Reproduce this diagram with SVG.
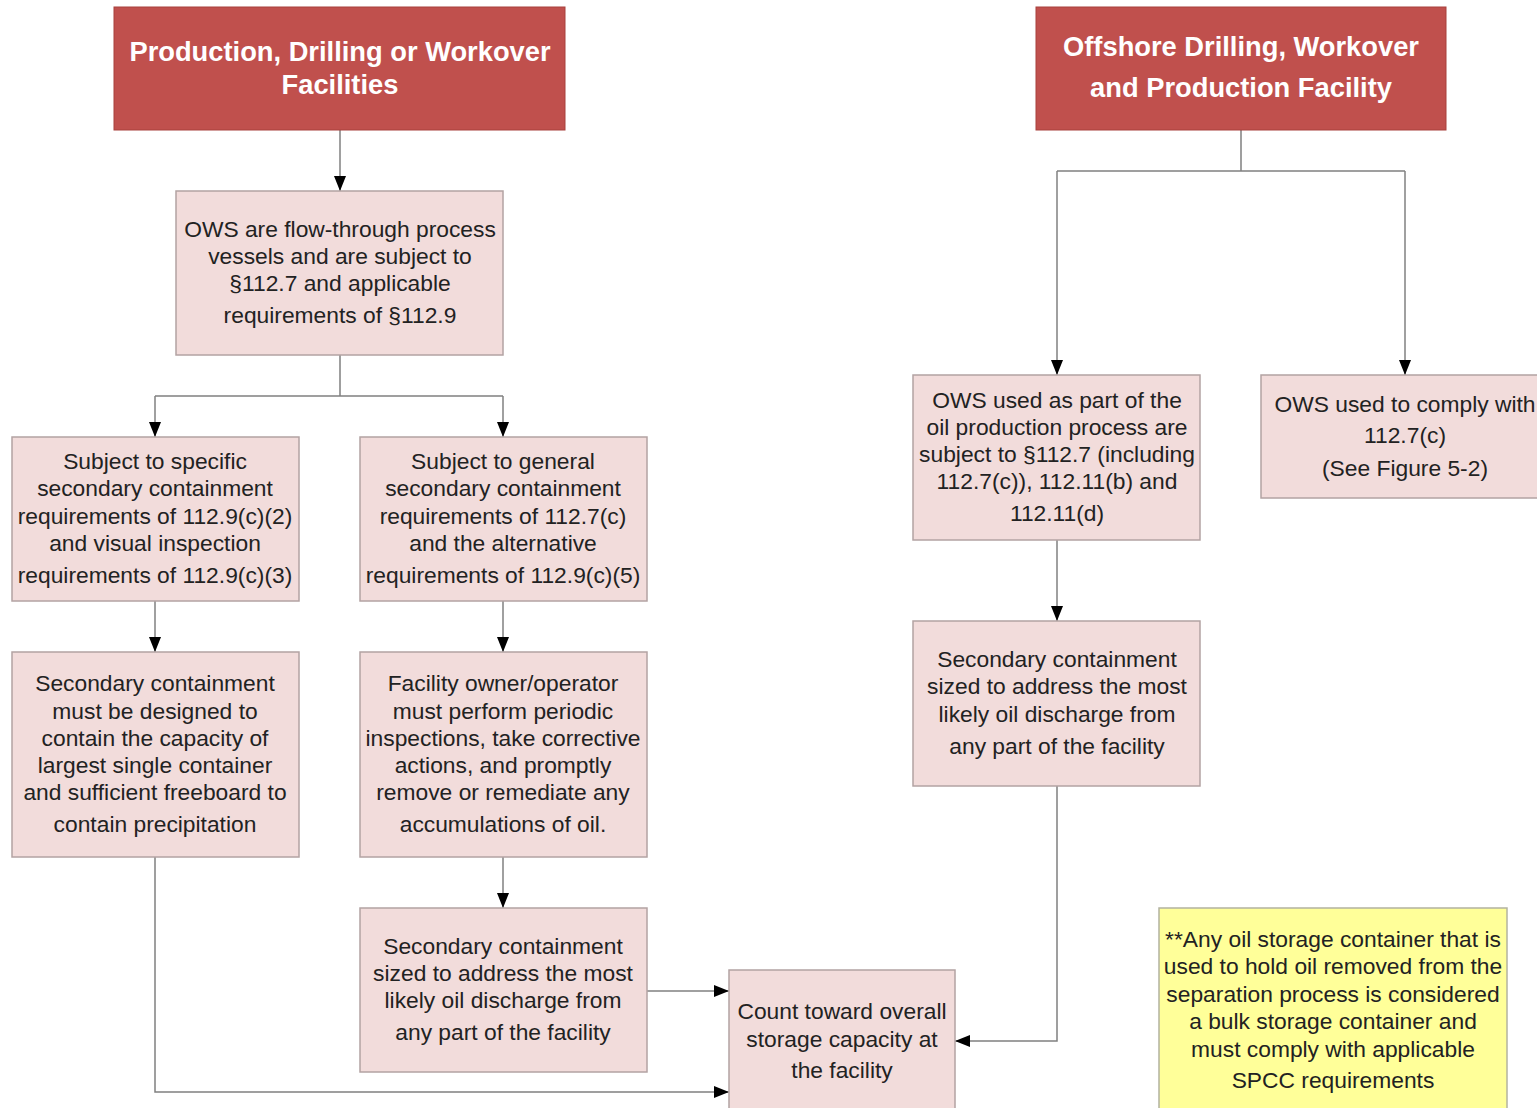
<svg xmlns="http://www.w3.org/2000/svg" width="1537" height="1108" viewBox="0 0 1537 1108">
<defs>
<marker id="ah" markerWidth="15" markerHeight="12" refX="15" refY="6" orient="auto" markerUnits="userSpaceOnUse">
<path d="M0,0 L15,6 L0,12 Z" fill="#000"/>
</marker>
<style>
.hdr{fill:#c0504d;stroke:#a8403d;stroke-width:1}
.box{fill:#f2dcdb;stroke:#b3a3a3;stroke-width:1.5}
.note{fill:#ffff99;stroke:#b3b3a0;stroke-width:1.5}
.ht{font-family:"Liberation Sans",Arial,sans-serif;font-weight:bold;font-size:27.3px;fill:#fff;text-anchor:middle}
.t{font-family:"Liberation Sans",Arial,sans-serif;font-size:22.8px;fill:#222;text-anchor:middle}
.c{fill:none;stroke:#808080;stroke-width:1.5}
.a{marker-end:url(#ah)}
</style>
</defs>
<rect width="1537" height="1108" fill="#fff"/>
<g id="connectors">
<path class="c a" d="M340,130 V191"/>
<path class="c" d="M340,355 V396 H155 M340,396 H503"/>
<path class="c a" d="M155,396 V437"/>
<path class="c a" d="M503,396 V437"/>
<path class="c a" d="M155,601 V652"/>
<path class="c a" d="M503,601 V652"/>
<path class="c a" d="M503,857 V908"/>
<path class="c a" d="M647,991 H729"/>
<path class="c a" d="M155,857 V1092 H729"/>
<path class="c a" d="M1057,786 V1041 H955"/>
<path class="c" d="M1241,130 V171 H1057 M1241,171 H1405"/>
<path class="c a" d="M1057,171 V375"/>
<path class="c a" d="M1405,171 V375"/>
<path class="c a" d="M1057,540 V621"/>
</g>
<g id="n-header1">
<rect class="hdr" x="114" y="7" width="451" height="123"/>
<text class="ht" x="340" y="61">Production, Drilling or Workover</text>
<text class="ht" x="340" y="94">Facilities</text>
</g>
<g id="n-header2">
<rect class="hdr" x="1036" y="7" width="410" height="123"/>
<text class="ht" x="1241" y="56">Offshore Drilling, Workover</text>
<text class="ht" x="1241" y="97">and Production Facility</text>
</g>
<g id="n-ows">
<rect class="box" x="176" y="191" width="327" height="164"/>
<text class="t" x="340" y="237">OWS are flow-through process</text>
<text class="t" x="340" y="264">vessels and are subject to</text>
<text class="t" x="340" y="291">§112.7 and applicable</text>
<text class="t" x="340" y="323">requirements of §112.9</text>
</g>
<g id="n-specific">
<rect class="box" x="12" y="437" width="287" height="164"/>
<text class="t" x="155" y="469">Subject to specific</text>
<text class="t" x="155" y="496">secondary containment</text>
<text class="t" x="155" y="524">requirements of 112.9(c)(2)</text>
<text class="t" x="155" y="551">and visual inspection</text>
<text class="t" x="155" y="583">requirements of 112.9(c)(3)</text>
</g>
<g id="n-general">
<rect class="box" x="360" y="437" width="287" height="164"/>
<text class="t" x="503" y="469">Subject to general</text>
<text class="t" x="503" y="496">secondary containment</text>
<text class="t" x="503" y="524">requirements of 112.7(c)</text>
<text class="t" x="503" y="551">and the alternative</text>
<text class="t" x="503" y="583">requirements of 112.9(c)(5)</text>
</g>
<g id="n-designed">
<rect class="box" x="12" y="652" width="287" height="205"/>
<text class="t" x="155" y="691">Secondary containment</text>
<text class="t" x="155" y="719">must be designed to</text>
<text class="t" x="155" y="746">contain the capacity of</text>
<text class="t" x="155" y="773">largest single container</text>
<text class="t" x="155" y="800">and sufficient freeboard to</text>
<text class="t" x="155" y="832">contain precipitation</text>
</g>
<g id="n-owner">
<rect class="box" x="360" y="652" width="287" height="205"/>
<text class="t" x="503" y="691">Facility owner/operator</text>
<text class="t" x="503" y="719">must perform periodic</text>
<text class="t" x="503" y="746">inspections, take corrective</text>
<text class="t" x="503" y="773">actions, and promptly</text>
<text class="t" x="503" y="800">remove or remediate any</text>
<text class="t" x="503" y="832">accumulations of oil.</text>
</g>
<g id="n-sized-left">
<rect class="box" x="360" y="908" width="287" height="164"/>
<text class="t" x="503" y="954">Secondary containment</text>
<text class="t" x="503" y="981">sized to address the most</text>
<text class="t" x="503" y="1008">likely oil discharge from</text>
<text class="t" x="503" y="1040">any part of the facility</text>
</g>
<g id="n-count">
<rect class="box" x="729" y="970" width="226" height="150"/>
<text class="t" x="842" y="1019">Count toward overall</text>
<text class="t" x="842" y="1047">storage capacity at</text>
<text class="t" x="842" y="1078">the facility</text>
</g>
<g id="n-ows-prod">
<rect class="box" x="913" y="375" width="287" height="165"/>
<text class="t" x="1057" y="408">OWS used as part of the</text>
<text class="t" x="1057" y="435">oil production process are</text>
<text class="t" x="1057" y="462">subject to §112.7 (including</text>
<text class="t" x="1057" y="489">112.7(c)), 112.11(b) and</text>
<text class="t" x="1057" y="521">112.11(d)</text>
</g>
<g id="n-ows-comply">
<rect class="box" x="1261" y="375" width="290" height="123"/>
<text class="t" x="1405" y="412">OWS used to comply with</text>
<text class="t" x="1405" y="443">112.7(c)</text>
<text class="t" x="1405" y="476">(See Figure 5-2)</text>
</g>
<g id="n-sized-right">
<rect class="box" x="913" y="621" width="287" height="165"/>
<text class="t" x="1057" y="667">Secondary containment</text>
<text class="t" x="1057" y="694">sized to address the most</text>
<text class="t" x="1057" y="722">likely oil discharge from</text>
<text class="t" x="1057" y="754">any part of the facility</text>
</g>
<g id="n-note">
<rect class="note" x="1159" y="908" width="348" height="215"/>
<text class="t" x="1333" y="947">**Any oil storage container that is</text>
<text class="t" x="1333" y="974">used to hold oil removed from the</text>
<text class="t" x="1333" y="1002">separation process is considered</text>
<text class="t" x="1333" y="1029">a bulk storage container and</text>
<text class="t" x="1333" y="1057">must comply with applicable</text>
<text class="t" x="1333" y="1088">SPCC requirements</text>
</g>
</svg>
